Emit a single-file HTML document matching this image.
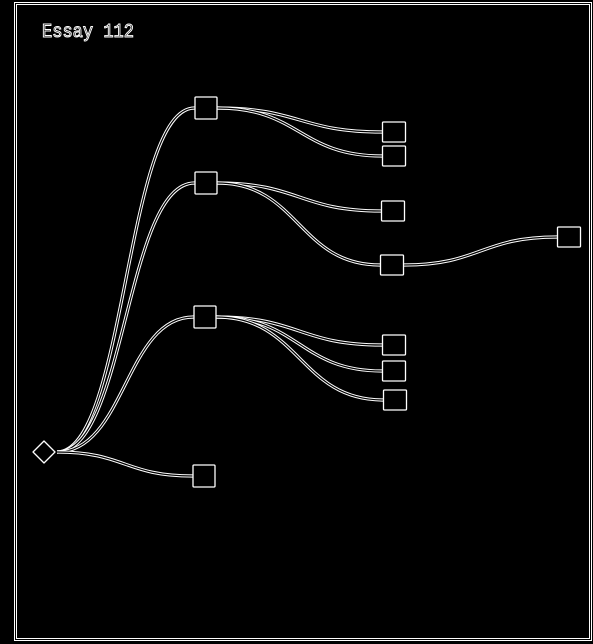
<!DOCTYPE html>
<html><head><meta charset="utf-8"><style>
html,body{margin:0;padding:0;background:#000;width:593px;height:644px;overflow:hidden}
svg{display:block}
</style></head><body>
<svg id="chart" width="593" height="644" viewBox="0 0 593 644">
<rect x="14.5" y="2.5" width="577" height="638" fill="none" stroke="#fff" stroke-width="1"/>
<rect x="16.5" y="4.5" width="573" height="634" fill="none" stroke="#fff" stroke-width="1"/>
<text x="42" y="37" font-family="Liberation Mono, monospace" font-size="19" textLength="92" lengthAdjust="spacingAndGlyphs" fill="#000" stroke="#fff" stroke-width="1">Essay 112</text>
<g id="links"></g>
<g id="nodes"></g>
</svg>
<script>
const nodeIds = ["root","b1","b2","b3","b4","c1","c2","c3","c4","c5","c6","c7","d1"];
const nodeX = [45,206,206,205,204,394,394,393,392,394,394,395,569];
const nodeY = [452,108,183,317,476,132,156,211,265,345,371,400,237];
const edgeFrom = ["root","root","root","root","b1","b1","b2","b2","c4","b3","b3","b3"];
const edgeTo   = ["b1","b2","b3","b4","c1","c2","c3","c4","d1","c5","c6","c7"];
const NS="http://www.w3.org/2000/svg";
function size(id){return id[0]==="b"?[23,23]:[24,21];}
function pos(id){const i=nodeIds.indexOf(id);return [nodeX[i],nodeY[i]];}
const lg=document.getElementById('links'), ng=document.getElementById('nodes');
edgeFrom.forEach((f,i)=>{
  const [x0,y0]=pos(f),[x1t,y1]=pos(edgeTo[i]);
  const sx = f==="root"? x0+12 : x0+size(f)[0]/2;
  const ex = x1t-size(edgeTo[i])[0]/2;
  const mx=(sx+ex)/2;
  const d=`M${sx},${y0} C${mx},${y0} ${mx},${y1} ${ex},${y1}`;
  const p1=document.createElementNS(NS,'path');
  p1.setAttribute('d',d);p1.setAttribute('fill','none');p1.setAttribute('stroke','#fff');p1.setAttribute('stroke-width','3.2');
  
  
  lg.appendChild(p1);
  const p2=document.createElementNS(NS,'path');
  p2.setAttribute('d',d);p2.setAttribute('fill','none');p2.setAttribute('stroke','#000');p2.setAttribute('stroke-width','1.2');
  
  
  lg.appendChild(p2);
});
nodeIds.forEach((id,i)=>{
  const x=nodeX[i],y=nodeY[i];
  let el;
  if(id==="root"){
    el=document.createElementNS(NS,'polygon');
    el.setAttribute('points',`${x-12},${y} ${x-1},${y-11} ${x+10},${y} ${x-1},${y+11}`);
    el.setAttribute('stroke-linejoin','round');
  } else {
    const [w,h]=size(id);
    el=document.createElementNS(NS,'rect');
    el.setAttribute('x',x-w/2+0.5);el.setAttribute('y',y-h/2+0.5);
    el.setAttribute('width',w-1);el.setAttribute('height',h-1);el.setAttribute('rx','1');
  }
  el.setAttribute('fill','#000');el.setAttribute('stroke','#fff');el.setAttribute('stroke-width','1.3');
  
  
  ng.appendChild(el);
});
</script>
</body></html>
